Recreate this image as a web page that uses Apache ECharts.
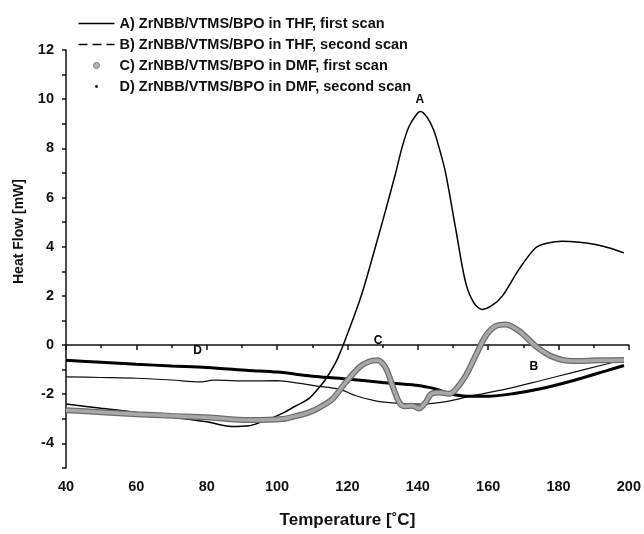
<!DOCTYPE html>
<html>
<head>
<meta charset="UTF-8">
<title>DSC scans</title>
<script type="text/javascript" src="https://cdn.jsdelivr.net/npm/echarts@6/dist/echarts.min.js"></script>
<style>
  html, body { margin: 0; padding: 0; background: #fff; }
</style>
</head>
<body>
<div id="main" style="width: 644px;height:534px;"></div>
<script type="text/javascript">
// series names
var nameA = 'A) ZrNBB/VTMS/BPO in THF, first scan';
var nameB = 'B) ZrNBB/VTMS/BPO in THF, second scan';
var nameC = 'C) ZrNBB/VTMS/BPO in DMF, first scan';
var nameD = 'D) ZrNBB/VTMS/BPO in DMF, second scan';

// [temperature, heat flow]
var scanA = [[40,-2.40],[50,-2.57],[60,-2.74],[70,-2.93],[80,-3.12],[87,-3.31],[92,-3.28],[96,-3.10],
  [101,-2.81],[105,-2.50],[109,-2.18],[111.5,-1.80],[113.8,-1.39],[117.1,-0.58],[120.5,0.64],[124.2,2.13],
  [128,4.02],[130.9,5.51],[133.7,7.00],[135.6,8.08],[137.5,8.89],[139.9,9.43],[140.8,9.50],[142.7,9.25],
  [144.5,8.75],[146.2,7.95],[147.9,7.00],[150.8,4.70],[153.6,2.54],[156,1.70],[158.3,1.45],[161,1.60],[164,1.99],
  [168.7,3.07],[173.5,3.96],[177,4.15],[181,4.22],[186,4.18],[190.5,4.09],[195,3.93],[198.6,3.75]];

var scanB = [[40,-1.29],[50,-1.32],[60,-1.35],[70,-1.42],[78,-1.50],[82,-1.43],[92,-1.46],[100,-1.45],
  [106,-1.55],[111,-1.66],[117.6,-1.79],[122.4,-2.06],[128,-2.27],[133.7,-2.36],[141.3,-2.40],[148,-2.30],
  [155.5,-2.06],[165,-1.79],[174.5,-1.46],[183.9,-1.12],[193.4,-0.78],[195.5,-0.70]];

var scanC = [[40,-2.65],[50,-2.73],[60,-2.81],[70,-2.88],[80,-2.94],[92,-3.05],[101.5,-3.01],[105,-2.90],
  [109.1,-2.74],[112.5,-2.50],[115.7,-2.20],[119.5,-1.52],[123.3,-0.91],[126,-0.68],[128.5,-0.62],[130,-0.75],
  [131.3,-1.05],[132.8,-1.66],[134.7,-2.33],[136.1,-2.49],[138.4,-2.47],[140.3,-2.58],[142.2,-2.33],[143.7,-2.00],
  [146,-1.93],[148.9,-1.98],[150.5,-1.85],[153.6,-1.25],[156.4,-0.44],[159.3,0.37],[162.1,0.77],[165,0.84],
  [168.8,0.57],[173.5,-0.04],[178.2,-0.47],[183.9,-0.65],[191.5,-0.62],[198.6,-0.61]];

var scanD = [[40,-0.62],[50,-0.70],[60,-0.78],[70,-0.85],[80,-0.91],[92,-1.03],[100,-1.10],[111,-1.28],
  [120.5,-1.39],[129.9,-1.52],[139.4,-1.63],[143.2,-1.72],[146,-1.82],[149,-1.98],[154,-2.08],[160,-2.08],
  [167,-1.98],[174.5,-1.79],[184,-1.45],[193.5,-1.05],[198.6,-0.83]];

// curve letters inside the plot
var noteText = ['A', 'C', 'D', 'B'];
var noteX = [140.6, 128.7, 77.4, 173.0];
var noteY = [9.97, 0.19, -0.24, -0.89];

var font = '"Liberation Sans", Arial, sans-serif';

var notes = [];
for (var i = 0; i < noteText.length; i++) {
  notes.push({ name: noteText[i], value: [noteX[i], noteY[i]] });
}

// legend glyphs (36x14 box)
var iconSolid = 'path://M0,0M36,14M0,6.3h36v1.4h-36z';
var iconDash = 'path://M0,0M36,14M0,6.3h9v1.4h-9z M14,6.3h9v1.4h-9z M28,6.3h8v1.4h-8z';
var iconRing = 'path://M0,0M36,14M15,7a3,3 0 1,0 6,0a3,3 0 1,0 -6,0z';
var iconDot = 'path://M0,0M36,14M16.6,7a1.4,1.4 0 1,0 2.8,0a1.4,1.4 0 1,0 -2.8,0z';

var myChart = echarts.init(document.getElementById('main'));

var option = {
  animation: false,
  backgroundColor: '#fff',
  grid: { left: 66, right: 14, top: 50, bottom: 65 },
  legend: {
    orient: 'vertical',
    left: 73,
    top: 11,
    itemWidth: 36,
    itemHeight: 14,
    itemGap: 6,
    textStyle: { fontFamily: font, fontWeight: 'bold', fontSize: 14.5, color: '#111' },
    data: [
      { name: nameA, icon: iconSolid, itemStyle: { color: '#000', borderWidth: 0 } },
      { name: nameB, icon: iconDash, itemStyle: { color: '#000', borderWidth: 0 } },
      { name: nameC, icon: iconRing, itemStyle: { color: '#b4b4b4', borderColor: '#7a7a7a', borderWidth: 1 } },
      { name: nameD, icon: iconDot, itemStyle: { color: '#000', borderWidth: 0 } }
    ]
  },
  xAxis: {
    type: 'value',
    min: 40,
    max: 200,
    interval: 20,
    name: 'Temperature [˚C]',
    nameLocation: 'middle',
    nameGap: 44,
    nameTextStyle: { fontFamily: font, fontWeight: 'bold', fontSize: 17, color: '#111' },
    axisLine: { lineStyle: { color: '#111', width: 1.5 } },
    axisTick: { inside: false, length: 5, lineStyle: { color: '#111', width: 1.5 } },
    minorTick: { show: true, splitNumber: 2, length: 3, lineStyle: { color: '#111', width: 1.5 } },
    axisLabel: { margin: 11, fontFamily: font, fontWeight: 'bold', fontSize: 14.5, color: '#111' },
    splitLine: { show: false }
  },
  yAxis: {
    type: 'value',
    min: -5,
    max: 12,
    interval: 1,
    name: 'Heat Flow [mW]',
    nameLocation: 'middle',
    nameGap: 40,
    nameTextStyle: { fontFamily: font, fontWeight: 'bold', fontSize: 14, color: '#111', padding: [0, 0, 0, 55] },
    axisLine: { show: true, lineStyle: { color: '#111', width: 1.5 } },
    axisTick: { inside: false, length: 4, lineStyle: { color: '#111', width: 1.5 } },
    axisLabel: {
      margin: 12, fontFamily: font, fontWeight: 'bold', fontSize: 14.5, color: '#111',
      formatter: function (v) { return v % 2 === 0 ? String(v) : ''; }
    },
    splitLine: { show: false }
  },
  series: [
    {
      name: nameA, type: 'line', data: scanA, smooth: 0.3, symbol: 'none',
      lineStyle: { color: '#000', width: 1.5 }, itemStyle: { color: '#000' }
    },
    {
      name: nameB, type: 'line', data: scanB, smooth: 0.3, symbol: 'none',
      lineStyle: { color: '#111', width: 1.2 }, itemStyle: { color: '#000' }
    },
    {
      name: nameD, type: 'line', data: scanD, smooth: 0.3, symbol: 'none',
      lineStyle: { color: '#000', width: 3 }, itemStyle: { color: '#000' }
    },
    {
      name: 'C outline', type: 'line', data: scanC, smooth: 0.3, symbol: 'none',
      lineStyle: { color: '#6c6c6c', width: 6 }
    },
    {
      name: nameC, type: 'line', data: scanC, smooth: 0.3, symbol: 'none',
      lineStyle: { color: '#a8a8a8', width: 3.5 }, itemStyle: { color: '#b4b4b4' }
    },
    {
      name: 'notes', type: 'scatter', data: notes, symbolSize: 0, z: 10, silent: true,
      itemStyle: { color: 'rgba(255,255,255,0)', borderWidth: 0 },
      label: {
        show: true, position: 'inside', formatter: '{b}', opacity: 1,
        fontFamily: font, fontWeight: 'bold', fontSize: 12, color: '#000',
        textBorderWidth: 0, textBorderColor: 'transparent'
      }
    }
  ]
};

myChart.setOption(option);
</script>
</body>
</html>
